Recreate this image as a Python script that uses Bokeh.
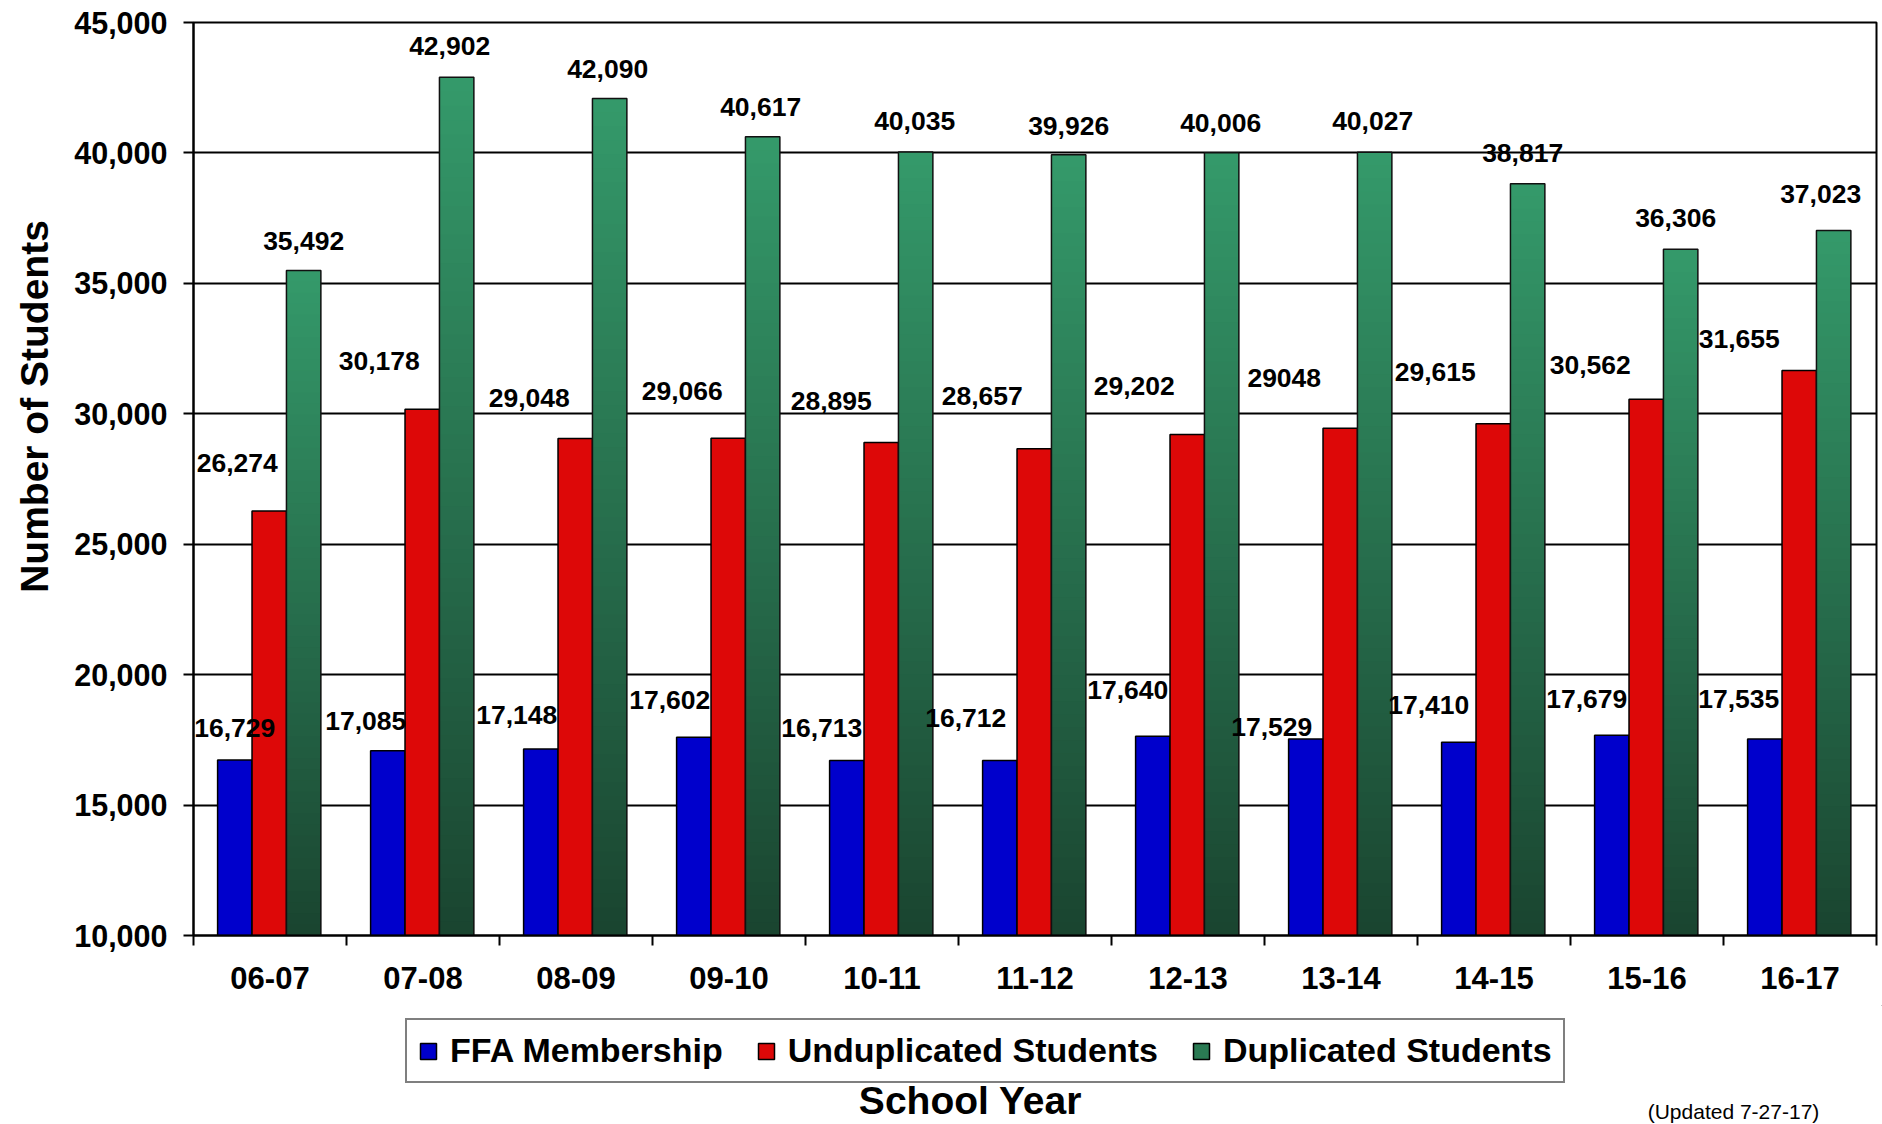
import math
from bokeh.plotting import figure
from bokeh.layouts import column, row
from bokeh.models import (Range1d, FixedTicker, NumeralTickFormatter, Label,
                          Legend, LegendItem, ColumnDataSource)
from bokeh.core.properties import value
from bokeh.embed import file_html
from bokeh.resources import INLINE

# ---------------- data ----------------
years = ["06-07", "07-08", "08-09", "09-10", "10-11", "11-12",
         "12-13", "13-14", "14-15", "15-16", "16-17"]
ffa_membership = [16729, 17085, 17148, 17602, 16713, 16712,
                  17640, 17529, 17410, 17679, 17535]
unduplicated = [26274, 30178, 29048, 29066, 28895, 28657,
                29202, 29450, 29615, 30562, 31655]
unduplicated_labels = ["26,274", "30,178", "29,048", "29,066", "28,895", "28,657",
                       "29,202", "29048", "29,615", "30,562", "31,655"]
duplicated = [35492, 42902, 42090, 40617, 40035, 39926,
              40006, 40027, 38817, 36306, 37023]
y_ticks = [10000, 15000, 20000, 25000, 30000, 35000, 40000, 45000]
y_min, y_max = 10000, 45000

# ---------------- style ----------------
FONT = "Liberation Sans"
BLUE = "#0000CC"
RED = "#DD0808"
GREEN_MID = "#2A7A53"
GREEN_TOP = (0x34, 0x99, 0x6A)
GREEN_BOT = (0x1A, 0x45, 0x30)

# label nudges (screen px) imitating the hand-placed labels of the original
blue_dx = [0, -22, -24, -24, -25, -34, -25, -34, -30, -25, -26]
blue_dy = [-32, -30, -34, -37, -32, -42, -46, -12, -37, -36, -40]
red_dx = [-32, -43, -46, -46, -50, -52, -53, -56, -58, -56, -60]
red_dy = [-48, -48, -41, -47, -42, -53, -49, -50, -52, -34, -32]
green_dx = [0, -7, -2, -2, -1, 0, -1, -2, -5, -5, -13]
green_dy = [-30, -31, -29, -30, -31, -29, -30, -31, -31, -31, -37]

n = len(years)
pos = list(range(n))

TOTAL_W, TOTAL_H = 1882, 1124
LEFT_W = 62
TOP_H = 1005
BOT_H = TOTAL_H - TOP_H
FRAME_BOTTOM = 935   # page y of the plot frame's bottom edge

# ---------------- main chart ----------------
p = figure(width=TOTAL_W - LEFT_W, height=TOP_H, output_backend="svg",
           toolbar_location=None,
           x_range=Range1d(0, n), y_range=Range1d(y_min, y_max),
           min_border_left=193 - LEFT_W, min_border_right=6, min_border_top=22,
           min_border_bottom=TOP_H - FRAME_BOTTOM)
p.background_fill_color = "white"
p.border_fill_color = "white"
p.outline_line_color = "black"
p.outline_line_width = 2

W = 0.225
off_blue, off_red, off_green = 0.27, 0.495, 0.72

blue_src = ColumnDataSource(dict(x=[i + off_blue for i in pos], top=ffa_membership,
                                 lab=[f"{v:,}" for v in ffa_membership],
                                 dx=blue_dx, dy=blue_dy))
red_src = ColumnDataSource(dict(x=[i + off_red for i in pos], top=unduplicated,
                                lab=unduplicated_labels, dx=red_dx, dy=red_dy))
green_src = ColumnDataSource(dict(x=[i + off_green for i in pos], top=duplicated,
                                  lab=[f"{v:,}" for v in duplicated],
                                  dx=green_dx, dy=green_dy))

p.vbar(x="x", top="top", bottom=y_min, width=W, source=blue_src,
       fill_color=BLUE, line_color="black", line_width=1.5)
p.vbar(x="x", top="top", bottom=y_min, width=W, source=red_src,
       fill_color=RED, line_color="black", line_width=1.5)

# gradient green bars: overlapping slices, light at top, dark at bottom
N = 60
gx, gt, gc = [], [], []
for i, v in enumerate(duplicated):
    for k in range(N):
        f = k / (N - 1)
        c = tuple(int(round(GREEN_TOP[j] + (GREEN_BOT[j] - GREEN_TOP[j]) * f)) for j in range(3))
        gx.append(i + off_green)
        gt.append(y_min + (v - y_min) * (N - k) / N)
        gc.append("#%02x%02x%02x" % c)
p.vbar(x=gx, top=gt, bottom=y_min, width=W, fill_color=gc, line_color=None)
p.vbar(x="x", top="top", bottom=y_min, width=W, source=green_src,
       fill_alpha=0, line_color="#111111", line_width=1.5)

lab_kw = dict(text_font=value(FONT), text_font_style="bold", text_font_size="26.5px",
              text_align="center", text_baseline="middle", text_color="black",
              x_offset="dx", y_offset="dy")
p.text(x="x", y="top", text="lab", source=blue_src, **lab_kw)
p.text(x="x", y="top", text="lab", source=red_src, **lab_kw)
p.text(x="x", y="top", text="lab", source=green_src, **lab_kw)

xa = p.xaxis[0]
xa.ticker = FixedTicker(ticks=[i + 0.5 for i in pos], minor_ticks=list(range(n + 1)))
xa.major_label_overrides = {i + 0.5: years[i] for i in pos}
xa.major_tick_out = 0
xa.major_tick_in = 0
xa.minor_tick_out = 10
xa.minor_tick_in = 0
xa.minor_tick_line_color = "black"
xa.minor_tick_line_width = 2
xa.axis_line_color = "black"
xa.axis_line_width = 2
xa.major_label_standoff = 21
xa.major_label_text_font = FONT
xa.major_label_text_font_style = "bold"
xa.major_label_text_font_size = "31px"
xa.major_label_text_color = "black"

ya = p.yaxis[0]
ya.ticker = FixedTicker(ticks=y_ticks)
ya.formatter = NumeralTickFormatter(format="0,0")
ya.major_tick_out = 10
ya.major_tick_in = 0
ya.major_tick_line_color = "black"
ya.major_tick_line_width = 2
ya.minor_tick_out = 0
ya.minor_tick_in = 0
ya.axis_line_color = "black"
ya.axis_line_width = 2
ya.major_label_standoff = 16
ya.major_label_text_font = FONT
ya.major_label_text_font_style = "bold"
ya.major_label_text_font_size = "30.5px"
ya.major_label_text_color = "black"

p.xgrid.visible = False
p.ygrid.ticker = FixedTicker(ticks=y_ticks)
p.ygrid.grid_line_color = "black"
p.ygrid.grid_line_width = 2


def blank(width, height):
    f = figure(width=width, height=height, output_backend="svg", toolbar_location=None,
               x_axis_type=None, y_axis_type=None,
               x_range=Range1d(0, 1), y_range=Range1d(0, 1),
               min_border=0, min_border_left=0, min_border_right=0,
               min_border_top=0, min_border_bottom=0)
    f.outline_line_color = None
    f.background_fill_color = "white"
    f.border_fill_color = "white"
    f.grid.visible = False
    return f


# ---------------- y-axis title panel (frame aligned with main frame) ----------------
pl = blank(LEFT_W, TOP_H)
pl.add_layout(Label(x=34, y=FRAME_BOTTOM - 406, x_units="screen", y_units="screen",
                    text="Number of Students", angle=math.pi / 2,
                    text_align="center", text_baseline="middle",
                    text_font=FONT, text_font_style="bold", text_font_size="39px",
                    text_color="black"))

# ---------------- bottom panel: legend, x title, note ----------------
pb = blank(TOTAL_W, BOT_H)
# legend swatch renderers (their marks lie outside the visible range)
lg_blue = pb.vbar(x=[5], top=[6], bottom=[5], width=0.1, fill_color=BLUE,
                  line_color="black", line_width=1.5)
lg_red = pb.vbar(x=[5], top=[6], bottom=[5], width=0.1, fill_color=RED,
                 line_color="black", line_width=1.5)
lg_green = pb.vbar(x=[5], top=[6], bottom=[5], width=0.1, fill_color=GREEN_MID,
                   line_color="black", line_width=1.5)
legend = Legend(items=[LegendItem(label="FFA Membership", renderers=[lg_blue]),
                       LegendItem(label="Unduplicated Students", renderers=[lg_red]),
                       LegendItem(label="Duplicated Students", renderers=[lg_green])],
                location=(405, TOTAL_H - 1083), orientation="horizontal",
                label_text_font=FONT, label_text_font_style="bold",
                label_text_font_size="34px", label_text_color="black",
                glyph_width=20, glyph_height=20, label_standoff=12, spacing=33,
                padding=11, margin=0, border_line_color="black", border_line_width=2,
                background_fill_color="white", background_fill_alpha=1)
pb.add_layout(legend)
pb.add_layout(Label(x=970, y=TOTAL_H - 1100, x_units="screen", y_units="screen",
                    text="School Year", text_align="center", text_baseline="middle",
                    text_font=FONT, text_font_style="bold", text_font_size="39px",
                    text_color="black"))
pb.add_layout(Label(x=1733, y=TOTAL_H - 1111, x_units="screen", y_units="screen",
                    text="(Updated 7-27-17)", text_align="center", text_baseline="middle",
                    text_font=FONT, text_font_size="21px", text_color="black"))

layout = column(row(pl, p), pb)
open("out.html", "w").write(file_html(layout, INLINE))
